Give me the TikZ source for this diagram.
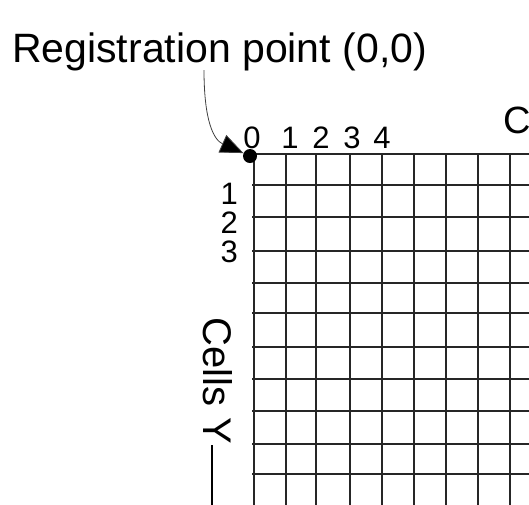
\documentclass[tikz,border=0pt]{standalone}
\usepackage{fontspec}
\setmainfont{Liberation Sans}
\usetikzlibrary{arrows.meta}
\begin{document}
\begin{tikzpicture}[x=1pt,y=-1pt,
  gridline/.style={line width=1.3pt, black!85},
  numlbl/.style={font=\fontsize{31}{31}\selectfont, inner sep=0pt},
  biglbl/.style={font=\fontsize{40}{40}\selectfont, inner sep=0pt},
  pointer/.style={line width=0.8pt, black!75, -{Triangle[length=23pt,width=19pt,fill=black]}}]
\useasboundingbox (0,0) rectangle (529,504);
\begin{scope}
\clip (0,0) rectangle (529,504);
% grid
\foreach \x in {254,286,316,350,382,414,446,478,510,542}
  \draw[gridline] (\x,154) -- (\x,520);
\foreach \y in {154,185,217,251,283,313,347,379,411,444,474,506}
  \draw[gridline] (252,\y) -- (540,\y);
% axis titles
\node[biglbl, anchor=base west, font=\fontsize{38}{38}\selectfont] (cx) at (503,133) {Cells X};
\node[biglbl, rotate=-90, anchor=base west] (cy) at (203,317) {Cells Y};
\coordinate (ytop) at (212,445);
\coordinate (ybot) at (212,520);
\draw[line width=1.2pt] (ytop) -- (ybot);
\end{scope}
% registration label
\node[anchor=base west, inner sep=0pt, font=\fontsize{41}{41}\selectfont] (reg) at (12,62) {Registration point (0,0)};
\coordinate (regstart) at (204,70);
\node[circle, fill=black, inner sep=0pt, minimum size=14pt] (dot) at (250,156) {};
\draw[pointer] (regstart) .. controls (204,122) and (214,140) .. (dot);
% column numbers
\node[numlbl, anchor=base] (c0) at (252,148) {0};
\node[numlbl, anchor=base] (c1) at (290,148) {1};
\node[numlbl, anchor=base] (c2) at (321,148) {2};
\node[numlbl, anchor=base] (c3) at (352,148) {3};
\node[numlbl, anchor=base] (c4) at (382,148) {4};
% row numbers
\node[numlbl, anchor=east] (r1) at (238,194) {1};
\node[numlbl, anchor=east] (r2) at (238,223) {2};
\node[numlbl, anchor=east] (r3) at (238,252) {3};
\end{tikzpicture}
\end{document}
